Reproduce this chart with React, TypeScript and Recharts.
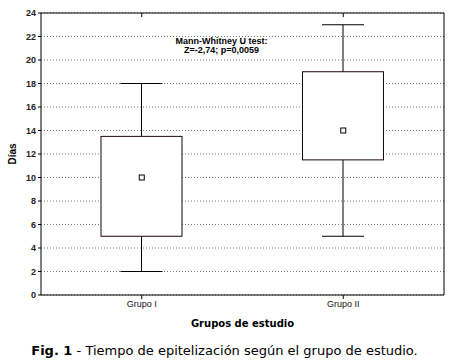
import React from 'react';
import {
  ComposedChart,
  Bar,
  Scatter,
  XAxis,
  YAxis,
  CartesianGrid,
} from 'recharts';

const categories = ['Grupo I', 'Grupo II'];
const minValues = [2, 5];
const q1Values = [5, 11.5];
const medianValues = [10, 14];
const q3Values = [13.5, 19];
const maxValues = [18, 23];
const yTicks = [0, 2, 4, 6, 8, 10, 12, 14, 16, 18, 20, 22, 24];

const data = categories.map((name, i) => ({
  name,
  base: minValues[i],
  lowWhisker: q1Values[i] - minValues[i],
  box: q3Values[i] - q1Values[i],
  highWhisker: maxValues[i] - q3Values[i],
  median: medianValues[i],
}));

const CAP = 21;

const LowWhisker = (props: any) => {
  const { x, y, width, height } = props;
  const cx = x + width / 2;
  return (
    <g>
      <line x1={cx} x2={cx} y1={y} y2={y + height} stroke="#000" />
      <line x1={cx - CAP} x2={cx + CAP} y1={y + height} y2={y + height} stroke="#000" />
    </g>
  );
};

const HighWhisker = (props: any) => {
  const { x, y, width, height } = props;
  const cx = x + width / 2;
  return (
    <g>
      <line x1={cx} x2={cx} y1={y} y2={y + height} stroke="#000" />
      <line x1={cx - CAP} x2={cx + CAP} y1={y} y2={y} stroke="#000" />
    </g>
  );
};

const BoxShape = (props: any) => {
  const { x, y, width, height } = props;
  return <rect x={x} y={y} width={width} height={height} fill="#fff" stroke="#1a0508" />;
};

const MedianMark = (props: any) => {
  const { cx, cy } = props;
  return <rect x={cx - 2.5} y={cy - 2.5} width={5} height={5} fill="#fff" stroke="#000" />;
};

const tickFont = { fontFamily: '"Liberation Sans", Arial, sans-serif', fontSize: 9 };

const App: React.FC = () => {
  return (
    <div style={{ position: 'absolute', left: 0, top: 0, width: 449, height: 362, background: '#fff' }}>
      <ComposedChart
        width={449}
        height={335}
        data={data}
        margin={{ top: 13, right: 5, left: 0, bottom: 0 }}
      >
        <CartesianGrid vertical={false} strokeDasharray="1 2" stroke="#777" />
        <XAxis
          dataKey="name"
          xAxisId={0}
          height={40}
          tickSize={4}
          tickMargin={2}
          stroke="#000"
          tick={{ ...tickFont, fill: '#111' }}
          label={{
            value: 'Grupos de estudio',
            position: 'insideBottom',
            offset: 8,
            style: { fontFamily: '"DejaVu Sans", Verdana, sans-serif', fontSize: 10, fontWeight: 'bold', fill: '#000' },
          }}
        />
        <XAxis
          dataKey="name"
          xAxisId="top"
          orientation="top"
          mirror
          height={1}
          tickSize={4}
          stroke="#000"
          tick={() => <g />}
        />
        <YAxis
          yAxisId={0}
          domain={[0, 24]}
          ticks={yTicks}
          interval={0}
          width={41}
          tickSize={3}
          tickMargin={2}
          stroke="#000"
          tick={{ ...tickFont, fontWeight: 'bold', fill: '#222' }}
          label={{
            value: 'Días',
            angle: -90,
            position: 'center',
            dx: -8,
            style: { fontFamily: '"Liberation Sans", Arial, sans-serif', fontSize: 10, fontWeight: 'bold', fill: '#000' },
          }}
        />
        <YAxis
          yAxisId="right"
          orientation="right"
          mirror
          domain={[0, 24]}
          ticks={yTicks}
          interval={0}
          width={1}
          tickSize={3}
          stroke="#000"
          tick={() => <g />}
        />
        <Bar dataKey="base" stackId="b" fill="transparent" barSize={81} isAnimationActive={false} />
        <Bar dataKey="lowWhisker" stackId="b" barSize={81} shape={LowWhisker} isAnimationActive={false} />
        <Bar dataKey="box" stackId="b" barSize={81} shape={BoxShape} isAnimationActive={false} />
        <Bar dataKey="highWhisker" stackId="b" barSize={81} shape={HighWhisker} isAnimationActive={false} />
        <Scatter dataKey="median" shape={MedianMark} isAnimationActive={false} />
      </ComposedChart>
      <div
        style={{
          position: 'absolute',
          left: 0,
          width: 449,
          top: 37,
          marginLeft: -3,
          textAlign: 'center',
          fontFamily: '"Liberation Sans", Arial, sans-serif',
          fontSize: 9,
          fontWeight: 'bold',
          lineHeight: '9px',
          color: '#000',
        }}
      >
        Mann-Whitney U test:
        <br />
        Z=-2,74; p=0,0059
      </div>
      <div
        style={{
          position: 'absolute',
          left: 0,
          width: 449,
          top: 343,
          textAlign: 'center',
          fontFamily: '"DejaVu Sans", Verdana, sans-serif',
          fontSize: 13,
          color: '#000',
        }}
      >
        <b>Fig. 1</b> - Tiempo de epitelización según el grupo de estudio.
      </div>
    </div>
  );
};

export default App;
